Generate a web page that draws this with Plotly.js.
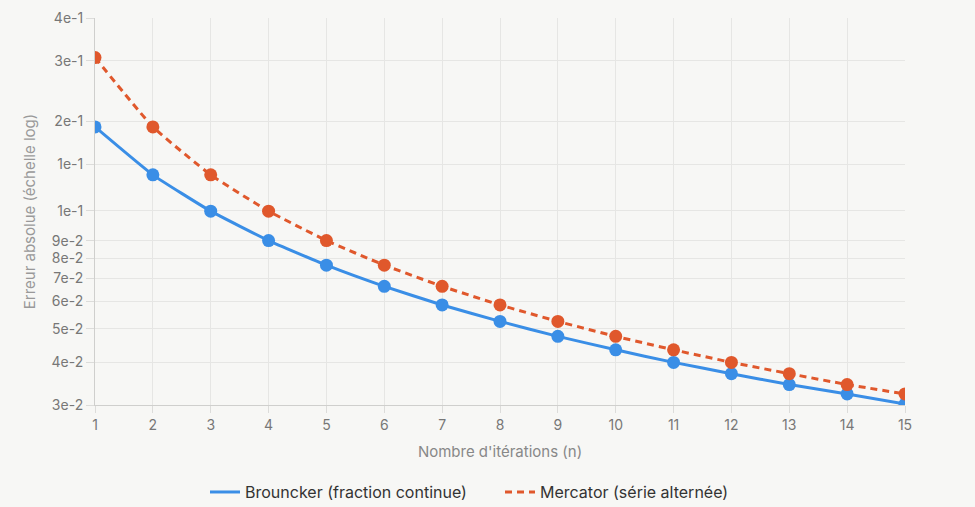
<!DOCTYPE html>
<html>
<head>
<meta charset="utf-8">
<script src="https://cdn.plot.ly/plotly-3.0.1.min.js"></script>
<style>
  html, body { margin: 0; padding: 0; background: #f7f7f5; }
  #chart { width: 975px; height: 507px; }
</style>
</head>
<body>
<div id="chart"></div>
<script>
// Iteration counts
const iterations = [1, 2, 3, 4, 5, 6, 7, 8, 9, 10, 11, 12, 13, 14, 15];

// Absolute error of each approximation of ln 2
const brounckerError = [0.193, 0.140, 0.1098, 0.0902, 0.0765, 0.0664, 0.0586, 0.0525,
                        0.0475, 0.0434, 0.0399, 0.0370, 0.0344, 0.0323, 0.0302];
const mercatorError  = [0.307, 0.193, 0.140, 0.1098, 0.0902, 0.0765, 0.0664, 0.0586,
                        0.0525, 0.0475, 0.0434, 0.0399, 0.0370, 0.0344, 0.0323];

// Log-axis ticks and their labels
const yTickVals = [0.4, 0.3, 0.2, 0.15, 0.11, 0.09, 0.08, 0.07, 0.06, 0.05, 0.04, 0.03];
const yTickText = ['4e-1', '3e-1', '2e-1', '1e-1', '1e-1', '9e-2', '8e-2', '7e-2', '6e-2', '5e-2', '4e-2', '3e-2'];

const BLUE = '#3a8ee6';
const ORANGE = '#e0582c';
const FONT = 'Inter, "Open Sans", sans-serif';

// Each series: a line trace (shown in the legend) plus its point markers
function series(values, name, color, dash) {
  return [
    {
      x: iterations, y: values, name: name,
      type: 'scatter', mode: 'lines',
      line: { color: color, width: 3, dash: dash, shape: 'spline', smoothing: 0.4 }
    },
    {
      x: iterations, y: values, name: name, showlegend: false,
      type: 'scatter', mode: 'markers',
      marker: { color: color, size: 13 }
    }
  ];
}

const traces = [
  ...series(brounckerError, 'Brouncker (fraction continue)', BLUE, 'solid'),
  ...series(mercatorError, 'Mercator (série alternée)', ORANGE, '7px,5px')
];

const layout = {
  width: 975, height: 507,
  paper_bgcolor: '#f7f7f5', plot_bgcolor: '#f7f7f5',
  margin: { l: 95, r: 70, t: 18, b: 102, autoexpand: false },
  font: { family: FONT, color: '#777', size: 13 },
  showlegend: true,
  legend: {
    orientation: 'h', x: 0.5, xanchor: 'center', y: -0.225, yanchor: 'middle',
    font: { family: FONT, size: 16, color: '#333' },
    bgcolor: 'rgba(0,0,0,0)',
    entrywidth: 250,
    tracegroupgap: 0
  },
  xaxis: {
    range: [1, 15],
    tickvals: iterations,
    showgrid: true, gridcolor: '#e6e6e4', gridwidth: 1,
    zeroline: false,
    showline: true, linecolor: '#cfcfcd', linewidth: 1,
    ticks: 'outside', ticklen: 7, tickcolor: '#dcdcda',
    tickfont: { size: 14, color: '#777' },
    automargin: false,
    title: { text: "Nombre d'itérations (n)", font: { size: 15, color: '#888' }, standoff: 14 }
  },
  yaxis: {
    type: 'log',
    range: [Math.log10(0.03), Math.log10(0.4)],
    tickvals: yTickVals, ticktext: yTickText,
    showgrid: true, gridcolor: '#e6e6e4', gridwidth: 1,
    zeroline: false,
    showline: true, linecolor: '#cfcfcd', linewidth: 1,
    ticks: 'outside', ticklen: 8, tickcolor: '#dcdcda',
    tickfont: { size: 14, color: '#777' },
    automargin: false,
    title: { text: 'Erreur absolue (échelle log)', font: { size: 15, color: '#999' }, standoff: 12 }
  }
};

Plotly.newPlot('chart', traces, layout, { displayModeBar: false, staticPlot: true });
</script>
</body>
</html>
